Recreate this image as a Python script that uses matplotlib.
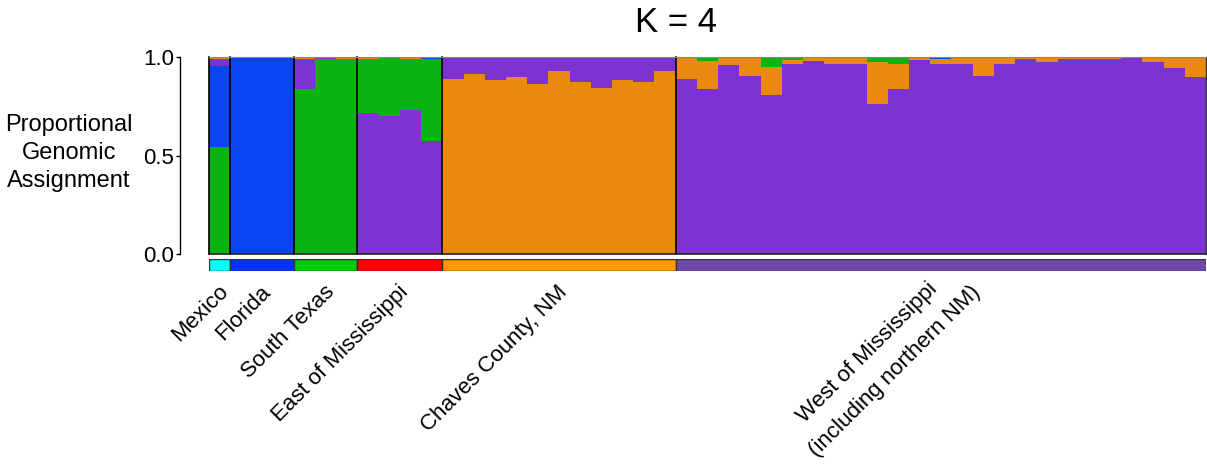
import matplotlib
matplotlib.use("Agg")
import matplotlib.pyplot as plt
import matplotlib.transforms as mtransforms
from matplotlib.patches import Rectangle
import numpy as np

plt.rcParams['font.family'] = ['Liberation Sans', 'DejaVu Sans']

# population groups (label, number of individuals, colour of group bar)
groups = ['Mexico', 'Florida', 'South Texas', 'East of Mississippi',
          'Chaves County, NM', 'West of Mississippi\n(including northern NM)']
group_sizes = [1, 3, 3, 4, 11, 25]
group_colors = ['#00FFFF', '#0033FF', '#00CC00', '#FF0000', '#FF9900', '#7048A8']

# cluster colours
cluster_names = ['green', 'blue', 'purple', 'orange']
cluster_colors = ['#0CB20F', '#0B45F2', '#7C33D2', '#EB890C']

# membership proportions for each individual (47 individuals)
green = [0.545,
         0, 0, 0,
         0.836, 0.990, 0.992,
         0.278, 0.298, 0.260, 0.417,
         0, 0, 0, 0, 0, 0, 0, 0, 0, 0, 0,
         0, 0.019, 0, 0, 0.053, 0.014, 0.005, 0, 0, 0.022, 0.033, 0.005,
         0, 0.005, 0.005, 0, 0, 0.005, 0, 0, 0, 0, 0, 0, 0.005]
blue = [0.407,
        1.0, 1.0, 1.0,
        0, 0, 0,
        0, 0, 0, 0.008,
        0, 0, 0, 0, 0, 0, 0, 0, 0, 0, 0,
        0, 0, 0, 0, 0, 0, 0, 0, 0, 0.005, 0, 0,
        0.008, 0, 0, 0, 0, 0, 0, 0, 0, 0, 0, 0, 0]
orange = [0.010,
          0, 0, 0,
          0.008, 0, 0.008,
          0.008, 0, 0.008, 0,
          0.888, 0.912, 0.883, 0.898, 0.864, 0.930, 0.873, 0.844, 0.883, 0.873, 0.930,
          0.112, 0.145, 0.043, 0.097, 0.142, 0.019, 0.014, 0.033, 0.033, 0.212, 0.131, 0.009,
          0.030, 0.033, 0.092, 0.038, 0.009, 0.022, 0.009, 0.009, 0.009, 0.003, 0.027, 0.058, 0.095]
purple = [0.038,
          0, 0, 0,
          0.156, 0.010, 0,
          0.714, 0.702, 0.732, 0.575,
          0.112, 0.088, 0.117, 0.102, 0.136, 0.070, 0.127, 0.156, 0.117, 0.127, 0.070,
          0.888, 0.836, 0.957, 0.903, 0.805, 0.967, 0.981, 0.967, 0.967, 0.761, 0.836, 0.986,
          0.962, 0.962, 0.903, 0.962, 0.991, 0.973, 0.991, 0.991, 0.991, 0.997, 0.973, 0.942, 0.900]

q = np.array([green, blue, purple, orange])
n_ind = q.shape[1]

fig = plt.figure(figsize=(12.07, 4.75), dpi=100)
ax = fig.add_axes([209 / 1207, 1 - 254 / 475, 997 / 1207, 197 / 475])
axg = fig.add_axes([209 / 1207, 1 - 271 / 475, 997 / 1207, 12 / 475])

# stacked bars, largest cluster at the bottom of each individual
for i in range(n_ind):
    order = np.argsort(-q[:, i], kind='stable')
    bottom = 0
    for k in order:
        if q[k, i] <= 0:
            continue
        ax.bar(i, q[k, i], bottom=bottom, width=1.0, align='edge',
               color=cluster_colors[k], linewidth=0)
        bottom += q[k, i]

ax.set_xlim(0, n_ind)
ax.set_ylim(0, 1)
ax.set_xticks([])
ax.set_yticks([0, 0.5, 1.0])
ax.set_yticklabels(['0.0', '0.5', '1.0'])
ax.tick_params(axis='y', length=3, width=1, pad=1, labelsize=16)
for s in ['top', 'right', 'bottom']:
    ax.spines[s].set_visible(False)
ax.spines['left'].set_position(('outward', 21))
ax.spines['left'].set_linewidth(1)

# group borders
bounds = np.concatenate([[0], np.cumsum(group_sizes)])
for b in bounds[:-1]:
    ax.axvline(b, color='black', lw=1.2, clip_on=False)
ax.axvline(bounds[-1], color='#333333', lw=1, clip_on=False)
ax.axhline(0, color='#222222', lw=1.2, clip_on=False)
ax.axhline(1, color='#888888', lw=0.8, clip_on=False)

# group colour bar
for j in range(len(groups)):
    axg.add_patch(Rectangle((bounds[j], 0), group_sizes[j], 1,
                            facecolor=group_colors[j], edgecolor='#333333', lw=1))
axg.set_xlim(0, n_ind)
axg.set_ylim(0, 1)
axg.axis('off')

# group labels (rotated, ending just under the group bar)
trans = mtransforms.blended_transform_factory(axg.transData, axg.transAxes)
for j, name in enumerate(groups):
    xc = (bounds[j] + bounds[j + 1]) / 2 - 0.1
    lines = name.split('\n')
    if len(lines) == 1:
        axg.text(xc, -0.85, name, transform=trans, rotation=45,
                 rotation_mode='anchor', ha='right', va='top', fontsize=16)
    else:
        shifts = [(-0.55, -0.6), (1.45, -0.9)]
        for line, (dx, yy) in zip(lines, shifts):
            axg.text(xc + dx, yy, line, transform=trans, rotation=45,
                     rotation_mode='anchor', ha='right', va='top', fontsize=16)

fig.text(69 / 1207, 1 - 153 / 475, 'Proportional\nGenomic\nAssignment',
         ha='center', va='center', multialignment='center', fontsize=17,
         linespacing=1.38)
fig.text(676 / 1207, 1 - 23 / 475, 'K = 4', ha='center', va='center', fontsize=25)

fig.savefig('out.png', dpi=100)
